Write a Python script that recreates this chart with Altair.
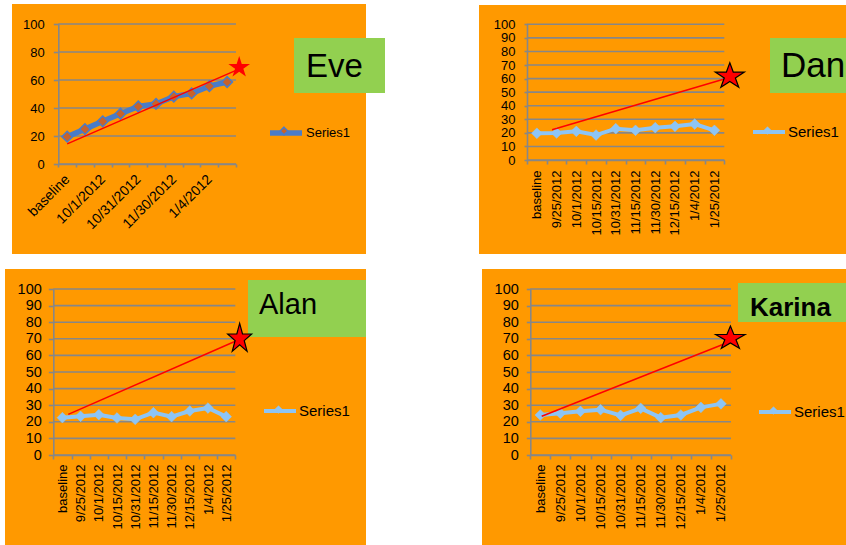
import altair as alt
import pandas as pd

# ---------------- data ----------------
CATEGORIES = ["baseline", "9/25/2012", "10/1/2012", "10/15/2012", "10/31/2012",
              "11/15/2012", "11/30/2012", "12/15/2012", "1/4/2012", "1/25/2012"]
SERIES = "Series1"
NAMES = ["Eve", "Dan", "Alan", "Karina"]

EVE_SCORES = [19.5, 24.9, 30.5, 35.9, 41.1, 42.9, 48.1, 50.4, 55.6, 58.6]
DAN_SCORES = [19.7, 19.9, 21.1, 18.4, 23.1, 21.9, 23.8, 24.8, 26.5, 21.9]
ALAN_SCORES = [22.5, 23.3, 24.3, 22.3, 21.5, 25.5, 23.1, 26.5, 28.3, 23.1]
KARINA_SCORES = [24.1, 25.1, 26.3, 27.3, 23.9, 28.1, 22.5, 24.1, 28.7, 30.8]

# red aim line: positions on the category axis (0 = baseline) and values
EVE_AIM_POS = [0.0, 9.5]
EVE_AIM_VAL = [14.4, 66.9]
DAN_AIM_POS = [0.77, 9.5]
DAN_AIM_VAL = [22.3, 59.7]
ALAN_AIM_POS = [0.32, 9.5]
ALAN_AIM_VAL = [24.5, 68.5]
KARINA_AIM_POS = [0.07, 9.5]
KARINA_AIM_VAL = [23.3, 68.5]

# goal star: [position, value]
EVE_GOAL = [9.68, 69.0]
DAN_GOAL = [9.78, 61.7]
ALAN_GOAL = [9.74, 70.0]
KARINA_GOAL = [9.47, 70.3]

TICKS_20 = [0, 20, 40, 60, 80, 100]
TICKS_10 = [0, 10, 20, 30, 40, 50, 60, 70, 80, 90, 100]
EVE_SHOWN_LABELS = ["baseline", "10/1/2012", "10/31/2012", "11/30/2012", "1/4/2012"]

# ---------------- styles / layout ----------------
FONT = "Liberation Sans, Arial, sans-serif"
ORANGE = "#FF9900"
GREEN = "#92D050"
GRID = "#878787"
RED = "#FF0000"
LIGHT_BLUE = "#8DC5F5"
EVE_BLUE = "#4A7CC8"
BROWN = "#C8622A"


def star_path(ax, ay):
    pts = [(0, -1), (0.2245, -0.309), (0.9511, -0.309), (0.3633, 0.118), (0.5878, 0.809),
           (0, 0.382), (-0.5878, 0.809), (-0.3633, 0.118), (-0.9511, -0.309), (-0.2245, -0.309)]
    return "M" + "L".join(f"{x * ax:.4f},{y * ay:.4f}" for x, y in pts) + "Z"


PANELS = {
    "Eve": dict(scores=EVE_SCORES, aim_pos=EVE_AIM_POS, aim_val=EVE_AIM_VAL, goal=EVE_GOAL,
                ticks=TICKS_20, shown=EVE_SHOWN_LABELS,
                box=(12, 4, 366, 254), tag=(294, 38, 385, 93), tag_xy=(306, 77),
                tag_size=33, tag_weight="normal",
                px=(58.3, 236), py=(164, 24), angle=-45,
                xfont=14, yfont=13, ytick=5, ypad=9, xtick=3, xpad=10,
                line=EVE_BLUE, line_w=5.5, mfill=BROWN, mstroke=EVE_BLUE, mstroke_w=1.5, msize=115,
                star=(1.0, 1.0, 520, None), legend_xy=(267, 130), legend_font=13),
    "Dan": dict(scores=DAN_SCORES, aim_pos=DAN_AIM_POS, aim_val=DAN_AIM_VAL, goal=DAN_GOAL,
                ticks=TICKS_10, shown=CATEGORIES,
                box=(479, 5, 850, 254), tag=(770, 38, 850, 93), tag_xy=(781, 77),
                tag_size=35, tag_weight="normal",
                px=(527, 724.3), py=(160, 24.3), angle=-90,
                xfont=13, yfont=13, ytick=3, ypad=9, xtick=4, xpad=6,
                line=LIGHT_BLUE, line_w=4, mfill=LIGHT_BLUE, mstroke=LIGHT_BLUE, mstroke_w=0.5, msize=115,
                star=(1.0, 0.89, 930, "black"), legend_xy=(751, 130), legend_font=15),
    "Alan": dict(scores=ALAN_SCORES, aim_pos=ALAN_AIM_POS, aim_val=ALAN_AIM_VAL, goal=ALAN_GOAL,
                 ticks=TICKS_10, shown=CATEGORIES,
                 box=(5, 269, 366, 550), tag=(248, 280, 366, 337), tag_xy=(259, 314),
                 tag_size=29, tag_weight="normal",
                 px=(53.3, 235.3), py=(455, 289), angle=-90,
                 xfont=13, yfont=14.5, ytick=5, ypad=7, xtick=4, xpad=5,
                 line=LIGHT_BLUE, line_w=4, mfill=LIGHT_BLUE, mstroke=LIGHT_BLUE, mstroke_w=0.5, msize=115,
                 star=(0.814, 1.0, 961, "black"), legend_xy=(262, 409), legend_font=15),
    "Karina": dict(scores=KARINA_SCORES, aim_pos=KARINA_AIM_POS, aim_val=KARINA_AIM_VAL, goal=KARINA_GOAL,
                   ticks=TICKS_10, shown=CATEGORIES,
                   box=(482, 269, 850, 550), tag=(738, 283, 850, 322), tag_xy=(750, 316),
                   tag_size=26, tag_weight="bold",
                   px=(530.3, 731), py=(455, 289), angle=-90,
                   xfont=13, yfont=14.5, ytick=4, ypad=8, xtick=4, xpad=5,
                   line=LIGHT_BLUE, line_w=4, mfill=LIGHT_BLUE, mstroke=LIGHT_BLUE, mstroke_w=0.5, msize=115,
                   star=(1.0, 0.80, 949, "black"), legend_xy=(757, 410), legend_font=15),
}


def panel(name, st):
    x0, x1 = st["px"]
    ybot, ytop = st["py"]
    yscale = alt.Scale(domain=[0, 100], range=[ybot, ytop], nice=False, zero=False)
    qscale = alt.Scale(domain=[-0.5, 9.5], range=[x0, x1], nice=False, zero=False)
    bscale = alt.Scale(type="band", domain=CATEGORIES, range=[x0, x1], paddingInner=0, paddingOuter=0)
    yaxis = alt.Axis(orient="left", offset=-x0, title=None, values=st["ticks"],
                     domainColor=GRID, domainWidth=1.6, tickColor=GRID, tickWidth=1.6,
                     tickSize=st["ytick"], labelPadding=st["ypad"], labelFont=FONT,
                     labelFontSize=st["yfont"], labelColor="black", grid=False, zindex=1,
                     labelOverlap=False)

    def Y(field):
        return alt.Y(field, scale=yscale, axis=yaxis)

    name_df = pd.DataFrame({"name": [name]})
    bx0, by0, bx1, by1 = st["box"]
    box = alt.Chart(name_df).mark_rect(color=ORANGE).encode(
        x=alt.value(bx0), x2=alt.value(bx1), y=alt.value(by0), y2=alt.value(by1))
    gx0, gy0, gx1, gy1 = st["tag"]
    tag = alt.Chart(name_df).mark_rect(color=GREEN).encode(
        x=alt.value(gx0), x2=alt.value(gx1), y=alt.value(gy0), y2=alt.value(gy1))
    tag_text = alt.Chart(name_df).mark_text(
        align="left", baseline="alphabetic", font=FONT, fontSize=st["tag_size"],
        fontWeight=st["tag_weight"], color="black").encode(
        x=alt.value(st["tag_xy"][0]), y=alt.value(st["tag_xy"][1]), text="name:N")

    grid_df = pd.DataFrame({"tick": st["ticks"], "lo": -0.5, "hi": 9.5})
    grid = alt.Chart(grid_df).mark_rule(color=GRID, strokeWidth=1.6).encode(
        x=alt.X("lo:Q", scale=qscale, axis=None), x2="hi:Q", y=Y("tick:Q"))

    shown_expr = "indexof([" + ",".join(f"'{c}'" for c in st["shown"]) + "], datum.value) >= 0 ? datum.label : ''"
    xaxis = alt.Axis(orient="bottom", offset=ybot - 545, title=None, labelExpr=shown_expr,
                     labelAngle=st["angle"], labelAlign="right", labelBaseline="middle",
                     tickBand="extent", domainColor=GRID, domainWidth=1.6, tickColor=GRID,
                     tickWidth=1.6, tickSize=st["xtick"], labelPadding=st["xpad"],
                     labelFont=FONT, labelFontSize=st["xfont"], labelColor="black",
                     grid=False, zindex=1)

    lx, ly = st["legend_xy"]
    series_df = pd.DataFrame({"date": CATEGORIES, "idx": list(range(len(CATEGORIES))),
                              "score": st["scores"], "series": SERIES, "marker": SERIES})
    line_legend = alt.Legend(orient="none", legendX=lx, legendY=ly - 16, title=None,
                             symbolType="M-1,0H1", symbolSize=1024, symbolStrokeWidth=st["line_w"],
                             labelFont=FONT, labelFontSize=st["legend_font"], labelColor="black",
                             labelOffset=1, padding=0)
    line = alt.Chart(series_df).mark_line(strokeWidth=st["line_w"]).encode(
        x=alt.X("date:N", scale=bscale, axis=xaxis),
        y=Y("score:Q"),
        order="idx:Q",
        stroke=alt.Stroke("series:N", scale=alt.Scale(range=[st["line"]]), legend=line_legend))
    # marker legend sits on top of the line legend (symbol only, no label)
    dia_legend = alt.Legend(orient="none", legendX=lx, legendY=ly - 16, title=None,
                            symbolType="M0,-0.24L0.24,0L0,0.24L-0.24,0Z", symbolSize=1024,
                            symbolStrokeColor=st["mstroke"], symbolStrokeWidth=st["mstroke_w"],
                            labelExpr="''", labelFontSize=1, labelOffset=0, padding=0, zindex=1)
    points = alt.Chart(series_df).mark_point(
        shape="diamond", filled=True, size=st["msize"], stroke=st["mstroke"],
        strokeWidth=st["mstroke_w"], opacity=1).encode(
        x=alt.X("date:N", scale=bscale, axis=None),
        y=Y("score:Q"),
        fill=alt.Fill("marker:N", scale=alt.Scale(range=[st["mfill"]]), legend=dia_legend))

    aim_df = pd.DataFrame({"pos": st["aim_pos"], "score": st["aim_val"]})
    aim = alt.Chart(aim_df).mark_line(color=RED, strokeWidth=1.5).encode(
        x=alt.X("pos:Q", scale=qscale, axis=None), y=Y("score:Q"))

    sax, say, ssize, sstroke = st["star"]
    star_kw = dict(shape=star_path(sax, say), filled=True, fill=RED, size=ssize, opacity=1)
    if sstroke:
        star_kw.update(stroke=sstroke, strokeWidth=1.2)
    goal_df = pd.DataFrame({"pos": [st["goal"][0]], "score": [st["goal"][1]]})
    star = alt.Chart(goal_df).mark_point(**star_kw).encode(
        x=alt.X("pos:Q", scale=qscale, axis=None), y=Y("score:Q"))

    return alt.layer(box, tag, tag_text, grid, line, points, aim, star).resolve_scale(x="independent")


layers = [panel(n, PANELS[n]) for n in NAMES]

chart = (
    alt.layer(*layers)
    .resolve_scale(x="independent", y="independent", stroke="independent", fill="independent")
    .resolve_axis(x="independent", y="independent")
    .resolve_legend(stroke="independent", fill="independent")
    .properties(width=846, height=545, autosize=alt.AutoSizeParams(type="none"),
                padding=0, background="white")
    .configure_view(stroke=None)
)

chart.save("out.html", embed_options={"renderer": "svg", "actions": False})
